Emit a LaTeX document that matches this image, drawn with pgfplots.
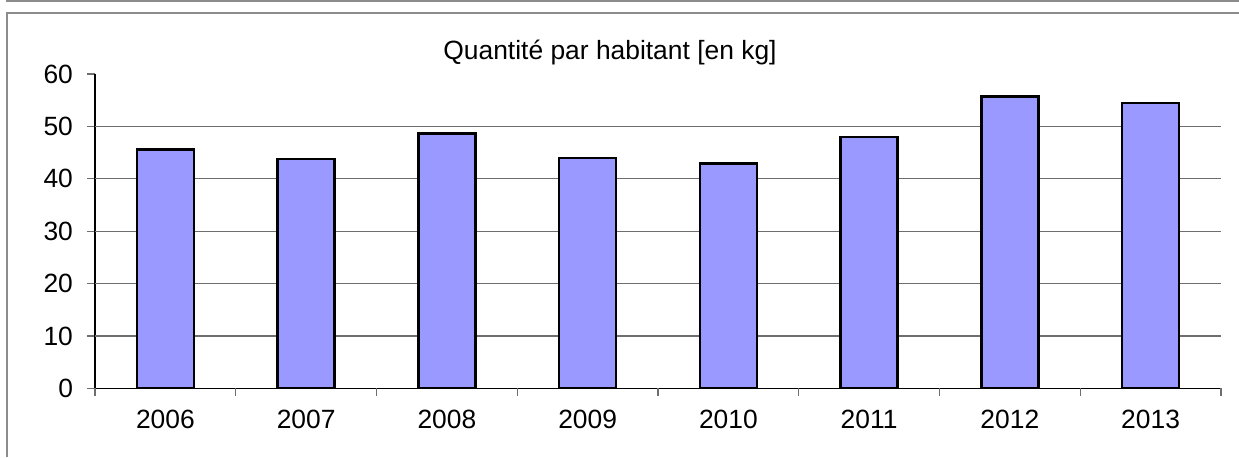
\documentclass[border=0pt]{standalone}
\usepackage{pgfplots}
\pgfplotsset{compat=1.18}
\usepackage{fontspec}
\setmainfont{Liberation Sans}
\definecolor{barfill}{HTML}{9999FF}
\definecolor{gridc}{HTML}{6E6E6E}
\definecolor{framec}{HTML}{8C8C8C}

\begin{document}
\begin{tikzpicture}
% page = 1239 x 457 px at 0.5pt per px
\path[use as bounding box] (0,0) rectangle (619.5pt,228.5pt);
\draw[framec, line width=0.8pt] (3.5pt,228.5pt) -- (3.5pt,228pt) -- (619.5pt,228pt);
\draw[framec, line width=0.8pt] (619.5pt,222pt) -- (3.5pt,222pt) -- (3.5pt,0pt);
\node[font=\fontsize{13.2}{15}\selectfont] at (305pt,202pt) {Quantité par habitant [en kg]};
\begin{axis}[
  at={(47.5pt,34.35pt)}, anchor=south west,
  scale only axis, width=563pt, height=157.15pt,
  xmin=0.5, xmax=8.5, ymin=0, ymax=60,
  axis x line*=bottom, axis y line*=left,
  axis line style={black, line width=0.7pt},
  /pgf/number format/assume math mode=true,
  ticklabel style={font=\fontsize{13.2}{15}\selectfont},
  ytick={0,10,...,60},
  ytick style={gridc, line width=0.6pt},
  yticklabel style={xshift=-3.5pt},
  tick align=outside, major tick length=4pt,
  extra y ticks={10,20,30,40,50},
  extra y tick labels={},
  extra y tick style={ymajorgrids, major tick length=0pt,
    major grid style={gridc, line width=0.6pt}},
  xtick={1,...,8},
  xticklabels={2006,2007,2008,2009,2010,2011,2012,2013},
  x tick style={draw=none},
  extra x ticks={0.5,1.5,...,8.5},
  extra x tick labels={},
  extra x tick style={x tick style={draw=gridc, line width=0.6pt}, major tick length=4pt},
  xticklabel style={yshift=-3.5pt},
  ybar, bar width=28.5pt,
]
\addplot[fill=barfill, draw=black, line width=1.3pt] coordinates {
(1,45.6) (2,43.8) (3,48.6) (4,44.0) (5,42.9) (6,48.0) (7,55.75) (8,54.5)
};
\end{axis}
\end{tikzpicture}
\end{document}
